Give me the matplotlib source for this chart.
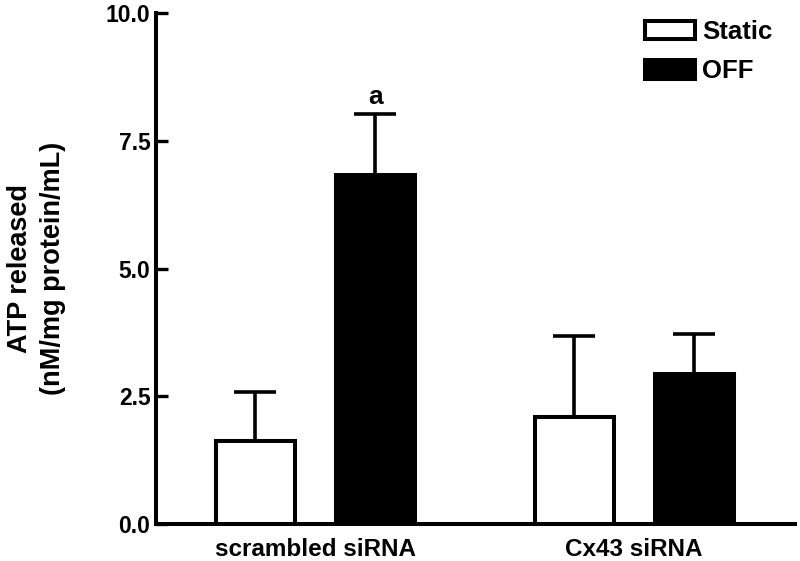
import matplotlib

matplotlib.use("Agg")

import matplotlib.pyplot as plt
import numpy as np
from matplotlib.patches import Patch

plt.rcParams["font.family"] = ["Liberation Sans", "DejaVu Sans"]
plt.rcParams["font.weight"] = "bold"

# values
groups = ["scrambled siRNA", "Cx43 siRNA"]
static_mean = [1.63, 2.10]
static_sem = [0.95, 1.59]
off_mean = [6.83, 2.93]
off_sem = [1.20, 0.80]
series_labels = ["Static", "OFF"]
y_ticks = [0.0, 2.5, 5.0, 7.5, 10.0]
sig_marks = ["a", ""]

fig = plt.figure(figsize=(8.0, 5.61), dpi=100)
ax = fig.add_axes([0.195, 0.066, 0.799, 0.91])

x = np.arange(len(groups))
offset = 0.1884
width = 0.248
lw_edge = 2.9

err_kw = dict(fmt="none", ecolor="black", elinewidth=2.6, capsize=15, capthick=2.6, zorder=1)

ax.errorbar(x - offset, static_mean, yerr=[np.zeros(len(groups)), static_sem], **err_kw)
ax.errorbar(x + offset, off_mean, yerr=[np.zeros(len(groups)), off_sem], **err_kw)

ax.bar(x - offset, static_mean, width, color="white", edgecolor="black", linewidth=lw_edge, zorder=2)
ax.bar(x + offset, off_mean, width, color="black", edgecolor="black", linewidth=lw_edge, zorder=2)

for xi, m, s, mark in zip(x + offset, off_mean, off_sem, sig_marks):
    if mark:
        ax.text(xi, m + s + 0.34, mark, ha="center", va="center", fontsize=19, fontweight="bold")

ax.set_xlim(-0.5, 1.505)
ax.set_ylim(0, 10)
ax.set_yticks(y_ticks)
ax.set_yticklabels([f"{t:.1f}" for t in y_ticks])
ax.set_xticks(x)
ax.set_xticklabels(groups)

for side in ("top", "right"):
    ax.spines[side].set_visible(False)
for side in ("left", "bottom"):
    ax.spines[side].set_linewidth(2.9)

ax.tick_params(axis="y", direction="in", length=8.5, width=2.4, labelsize=16.5, pad=4)
ax.tick_params(axis="x", length=0, labelsize=17.5, pad=10)
for lab in ax.get_xticklabels() + ax.get_yticklabels():
    lab.set_fontweight("bold")

ax.set_ylabel("ATP released\n(nM/mg protein/mL)", fontsize=19.5, fontweight="bold",
              labelpad=29, linespacing=1.35)

handles = [
    Patch(facecolor="white", edgecolor="black", linewidth=lw_edge),
    Patch(facecolor="black", edgecolor="black", linewidth=lw_edge),
]
leg = fig.legend(
    handles,
    series_labels,
    loc="upper left",
    bbox_to_anchor=(645 / 800, 1 - 20 / 561),
    frameon=False,
    fontsize=18.5,
    handlelength=1.95,
    handleheight=0.75,
    handletextpad=0.28,
    labelspacing=0.6,
    borderpad=0,
    borderaxespad=0,
)
for t in leg.get_texts():
    t.set_fontweight("bold")

fig.savefig("out.png", dpi=100)
